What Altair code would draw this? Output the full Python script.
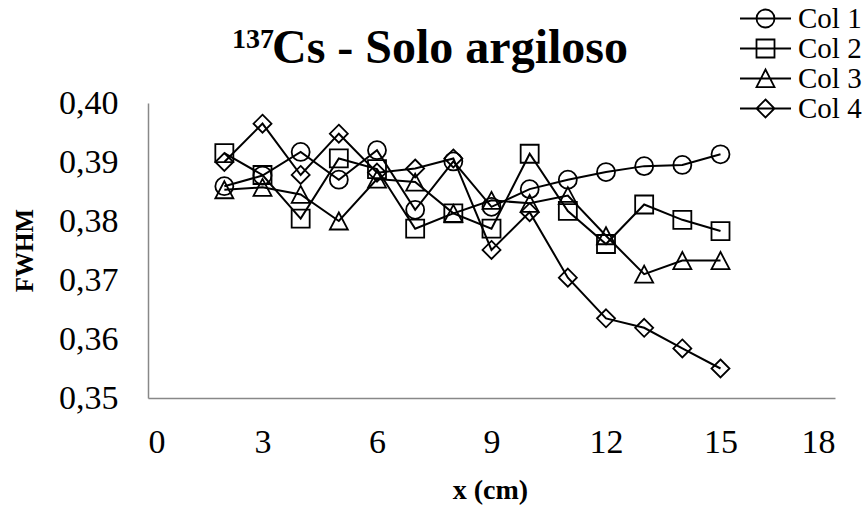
import altair as alt
import pandas as pd

# ---- data ----
x_cm = [2, 3, 4, 5, 6, 7, 8, 9, 10, 11, 12, 13, 14, 15]
col1 = [0.3859, 0.3877, 0.3917, 0.3870, 0.3920, 0.3819, 0.3901, 0.3824, 0.3854, 0.3870, 0.3883, 0.3893, 0.3895, 0.3913]
col2 = [0.3915, 0.3878, 0.3804, 0.3906, 0.3888, 0.3787, 0.3813, 0.3787, 0.3914, 0.3817, 0.3761, 0.3828, 0.3802, 0.3783]
col3 = [0.3853, 0.3857, 0.3845, 0.3800, 0.3871, 0.3866, 0.3813, 0.3835, 0.3830, 0.3843, 0.3775, 0.3710, 0.3733, 0.3733]
col4 = [0.3900, 0.3965, 0.3878, 0.3948, 0.3882, 0.3889, 0.3906, 0.3751, 0.3815, 0.3704, 0.3635, 0.3619, 0.3584, 0.3550]
series_names = ["Col 1", "Col 2", "Col 3", "Col 4"]
x_ticks = [0, 3, 6, 9, 12, 15, 18]
y_ticks = [0.35, 0.36, 0.37, 0.38, 0.39, 0.40]
title_sup = ["137"]
title_main = ["Cs - Solo argiloso"]

rows = []
for name, vals in zip(series_names, [col1, col2, col3, col4]):
    for xv, yv in zip(x_cm, vals):
        rows.append({"x": xv, "fwhm": yv, "serie": name})
df = pd.DataFrame(rows)

FONT = "Liberation Serif"

# marker shapes (unit box -1..1)
marker_paths = [
    "M-0.9,0A0.9,0.9,0,1,0,0.9,0A0.9,0.9,0,1,0,-0.9,0Z",
    "M-0.9,-0.9H0.9V0.9H-0.9Z",
    "M0,-0.85L0.9,0.85L-0.9,0.85Z",
    "M0,-0.9L0.9,0L0,0.9L-0.9,0Z",
]
# legend symbols: line through marker (line extends past the unit box)
L = 2.55
m = 0.9
legend_paths = [
    f"M-{L},0H{L}M-{m},0A{m},{m},0,1,0,{m},0A{m},{m},0,1,0,-{m},0Z",
    f"M-{L},0H{L}M-{m},-{m}H{m}V{m}H-{m}Z",
    f"M-{L},0H{L}M0,-{m}L{m},{m * 0.95}L-{m},{m * 0.95}Z",
    f"M-{L},0H{L}M0,-{m}L{m},0L0,{m}L-{m},0Z",
]

x_enc = alt.X(
    "x:Q",
    scale=alt.Scale(domain=[0, 18], nice=False, zero=False),
    axis=alt.Axis(
        values=x_ticks, title="x (cm)", grid=False, ticks=False,
        labelFont=FONT, labelFontSize=34, labelColor="black", labelPadding=27,
        domainColor="#888888", domainWidth=1.5,
        titleFont=FONT, titleFontSize=28, titleFontWeight="bold", titleColor="black",
        titleX=342, titleY=100, titleBaseline="alphabetic", titleAlign="center",
    ),
)
y_enc = alt.Y(
    "fwhm:Q",
    scale=alt.Scale(domain=[0.35, 0.40], nice=False, zero=False),
    axis=alt.Axis(
        values=y_ticks, title="FWHM", grid=False, ticks=False,
        labelExpr="replace(format(datum.value, '.2f'), '.', ',')",
        labelFont=FONT, labelFontSize=34, labelColor="black", labelPadding=30,
        domainColor="#888888", domainWidth=1.5,
        titleFont=FONT, titleFontSize=25, titleFontWeight="bold", titleColor="black",
        titleX=-116, titleY=147, titleAngle=270, titleBaseline="alphabetic", titleAlign="center",
    ),
)

base = alt.Chart(df).encode(x=x_enc, y=y_enc)

lines = base.mark_line(color="black", strokeWidth=2).encode(detail="serie:N")

points = base.mark_point(filled=False, color="black", strokeWidth=1.8, size=400, opacity=1).encode(
    shape=alt.Shape("serie:N", scale=alt.Scale(domain=series_names, range=marker_paths), legend=None)
)

legend_layer = base.mark_point(filled=False, color="black", strokeWidth=1.8, size=400, opacity=0).encode(
    shape=alt.Shape(
        "serie:N",
        scale=alt.Scale(domain=series_names, range=legend_paths),
        legend=alt.Legend(
            title=None, orient="none", legendX=603, legendY=-99,
            symbolSize=400, symbolStrokeColor="black", symbolStrokeWidth=1.8,
            symbolFillColor="transparent", symbolOpacity=1,
            labelFont=FONT, labelFontSize=29, labelColor="black", labelOffset=18,
            rowPadding=0, padding=0,
        ),
    )
)

sup = alt.Chart(pd.DataFrame({"t": title_sup})).mark_text(
    font=FONT, fontSize=28, fontWeight="bold", align="left", baseline="alphabetic", color="black"
).encode(text="t:N", x=alt.value(84), y=alt.value(-55))

main = alt.Chart(pd.DataFrame({"t": title_main})).mark_text(
    font=FONT, fontSize=48, fontWeight="bold", align="left", baseline="alphabetic", color="black"
).encode(text="t:N", x=alt.value(124), y=alt.value(-40))

chart = alt.layer(lines, points, legend_layer, sup, main).resolve_scale(shape="independent").properties(
    width=687, height=295,
    autosize=alt.AutoSizeParams(type="none"),
    padding={"left": 148, "top": 103, "right": 30, "bottom": 108},
    background="white",
).configure_view(stroke=None)

chart.save("out.html", embed_options={"renderer": "svg", "actions": False})
